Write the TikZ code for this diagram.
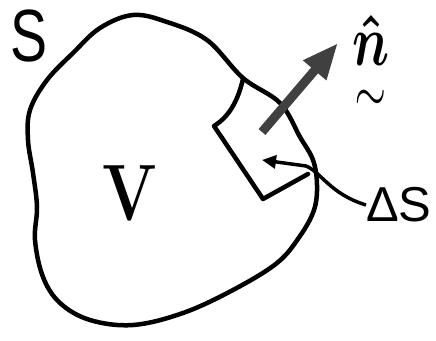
\documentclass[tikz,border=0pt]{standalone}
\usepackage{amsmath}
\usepackage{fontspec}
\newfontfamily\handfont{Liberation Sans}
\usetikzlibrary{positioning, arrows.meta, calc}

\begin{document}
\begin{tikzpicture}[
  x=1pt, y=-1pt,
  outline/.style={line width=4.5pt, line join=round, line cap=round},
  normal/.style={-{Triangle[length=36pt, width=28pt]}, line width=9pt, draw=black!75},
  pointer/.style={-{Triangle[length=14pt, width=13pt]}, line width=3.5pt},
  tag/.style={inner sep=0pt, anchor=center},
]
\useasboundingbox (0,0) rectangle (436,340);

\draw[outline] plot[smooth cycle, tension=0.6] coordinates {
  (133,15) (167,22) (207,40) (243,78) (280,103) (300,137) (313,160) (317,185)
  (314,210) (300,236) (277,263) (233,290) (183,313) (133,325) (90,320) (60,303)
  (43,277) (35,240) (37,207) (33,173) (28,140) (30,110) (47,80) (73,53) (100,28)};

\draw[outline] (243,79) .. controls (238,100) and (230,116) .. (214,126)
  -- (263,199) -- (308,174);

\coordinate (nbase) at (262,132);
\coordinate (ntip)  at (338,43);
\coordinate (patch) at (262,160);

\node[tag, font=\handfont\fontsize{74}{74}\selectfont, xscale=0.75] (S) at (29,36) {S};
\node[tag, font=\bfseries\fontsize{80}{80}\selectfont, xscale=0.8] (V) at (130,193) {V};
\node[tag] (n) at (371,66) {\scalebox{5.2}[7.2]{$\underset{\sim}{\boldsymbol{\hat{n}}}$}};
\node[tag, anchor=west, font=\handfont\fontsize{49}{49}\selectfont] (dS) at (366,205) {ΔS};

\draw[normal] (nbase) -- (ntip);
\draw[pointer] (dS.west) .. controls (330,194) and (321,172) .. (306,166) -- (patch);
\end{tikzpicture}
\end{document}
